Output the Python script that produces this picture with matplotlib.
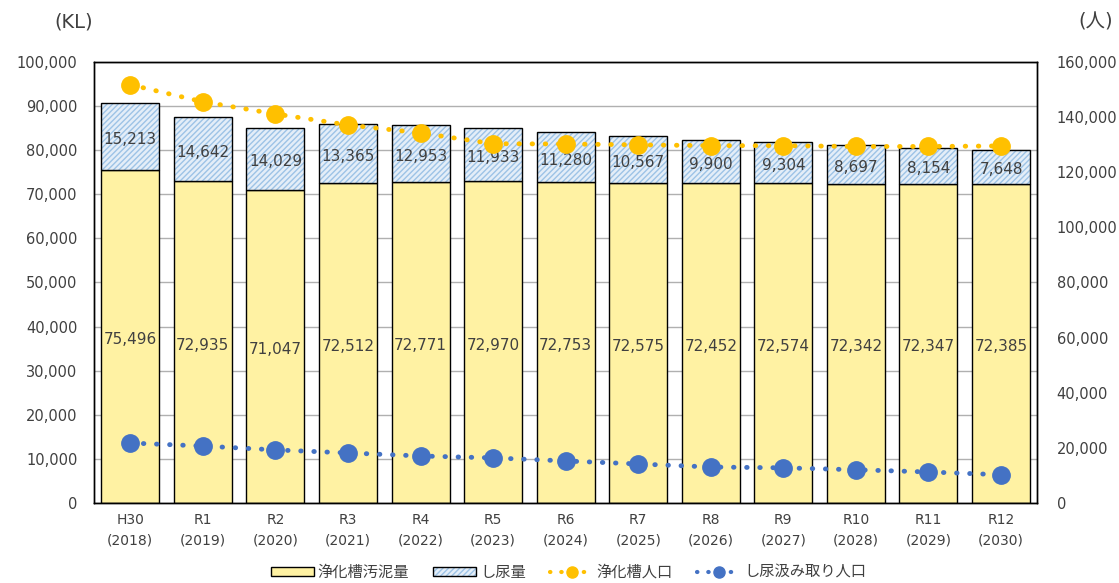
import numpy as np
import matplotlib.pyplot as plt
from matplotlib.patches import Patch
from matplotlib.lines import Line2D

plt.rcParams['font.family'] = ['DejaVu Sans', 'Noto Sans CJK JP']

#Fiscal year labels
years = ['H30\n(2018)', 'R1\n(2019)', 'R2\n(2020)', 'R3\n(2021)', 'R4\n(2022)',
         'R5\n(2023)', 'R6\n(2024)', 'R7\n(2025)', 'R8\n(2026)', 'R9\n(2027)',
         'R10\n(2028)', 'R11\n(2029)', 'R12\n(2030)']

#Sludge volumes (KL)
sludge = [75496, 72935, 71047, 72512, 72771, 72970, 72753, 72575, 72452, 72574, 72342, 72347, 72385]
night_soil = [15213, 14642, 14029, 13365, 12953, 11933, 11280, 10567, 9900, 9304, 8697, 8154, 7648]

#Population served (people)
septic_pop = [151700, 145500, 141100, 137100, 134200, 130300, 130200, 129900, 129600, 129600, 129300, 129300, 129500]
pumping_pop = [21800, 20700, 19300, 18200, 17100, 16400, 15300, 14200, 13100, 12800, 12100, 11300, 10300]

yellow = '#fff2a3'
hatch_blue = '#9dc3e6'
hatch_bg = '#e4eef8'
orange = '#ffc000'
blue = '#4472c4'
txt = '#404040'
dots = (0, (0.1, 2.6))

fig = plt.figure(figsize=(11.19, 5.83), dpi=100)
ax = fig.add_axes([0.084, 0.137, 0.843, 0.757])
ax2 = ax.twinx()

x = np.arange(len(years))
w = 0.8

#Stacked bars
ax.bar(x, sludge, w, color=yellow, edgecolor='black', linewidth=1, zorder=2)
ax.bar(x, night_soil, w, bottom=sludge, color=hatch_bg, edgecolor=hatch_blue,
       hatch='//////', linewidth=0, zorder=2)
ax.bar(x, night_soil, w, bottom=sludge, fill=False, edgecolor='black', linewidth=1, zorder=3)

for i in range(len(x)):
    ax.text(x[i], sludge[i] / 2 - 700, f'{sludge[i]:,}', ha='center', va='center',
            fontsize=11, color=txt, zorder=4)
    ax.text(x[i], sludge[i] + night_soil[i] / 2 - 700, f'{night_soil[i]:,}', ha='center',
            va='center', fontsize=11, color=txt, zorder=4)

ax.set_ylim(0, 100000)
ax.set_yticks(np.arange(0, 100001, 10000))
ax.yaxis.set_major_formatter(plt.FuncFormatter(lambda v, p: f'{int(v):,}'))
ax.set_xlim(-0.5, len(x) - 0.5)
ax.set_xticks(x)
ax.set_xticklabels(years, fontsize=10, color=txt, linespacing=1.6)
ax.set_axisbelow(True)
ax.grid(axis='y', color='#b0b0b0', linewidth=1)
ax.tick_params(axis='y', length=0, labelsize=10.5, labelcolor=txt, pad=12)
ax.tick_params(axis='x', length=0, pad=7)

#Population lines on right axis
ax2.plot(x, septic_pop, linestyle=dots, linewidth=3.5, dash_capstyle='round', color=orange,
         marker='o', markersize=12.5, zorder=5)
ax2.plot(x, pumping_pop, linestyle=dots, linewidth=3.5, dash_capstyle='round', color=blue,
         marker='o', markersize=12.5, zorder=5)
ax2.set_ylim(0, 160000)
ax2.set_yticks(np.arange(0, 160001, 20000))
ax2.yaxis.set_major_formatter(plt.FuncFormatter(lambda v, p: f'{int(v):,}'))
ax2.tick_params(axis='y', length=0, labelsize=10.5, labelcolor=txt, pad=14)

for a in (ax, ax2):
    for s in a.spines.values():
        s.set_color('black')
        s.set_linewidth(1)

fig.text(0.066, 0.962, '(KL)', fontsize=14, color=txt, ha='center', va='center')
fig.text(0.979, 0.962, '(人)', fontsize=14, color=txt, ha='center', va='center')

#Hatched key = hatch fill overlaid with a black outline
hatch_key = (Patch(facecolor=hatch_bg, edgecolor=hatch_blue, hatch='//////', linewidth=0),
             Patch(fill=False, edgecolor='black', linewidth=1))
handles = [
    Patch(facecolor=yellow, edgecolor='black', linewidth=1),
    hatch_key,
    Line2D([], [], color=orange, linestyle=dots, linewidth=3, dash_capstyle='round',
           marker='o', markersize=8),
    Line2D([], [], color=blue, linestyle=dots, linewidth=3, dash_capstyle='round',
           marker='o', markersize=8),
]
labels = ['浄化槽汚泥量', 'し尿量', '浄化槽人口', 'し尿汲み取り人口']
fig.legend(handles, labels, loc='center', bbox_to_anchor=(0.508, 0.018), ncol=4,
           frameon=False, fontsize=11, handlelength=2.8, handleheight=0.5,
           columnspacing=1.6, handletextpad=0.25, labelcolor=txt)

fig.savefig('out.png', dpi=100)
